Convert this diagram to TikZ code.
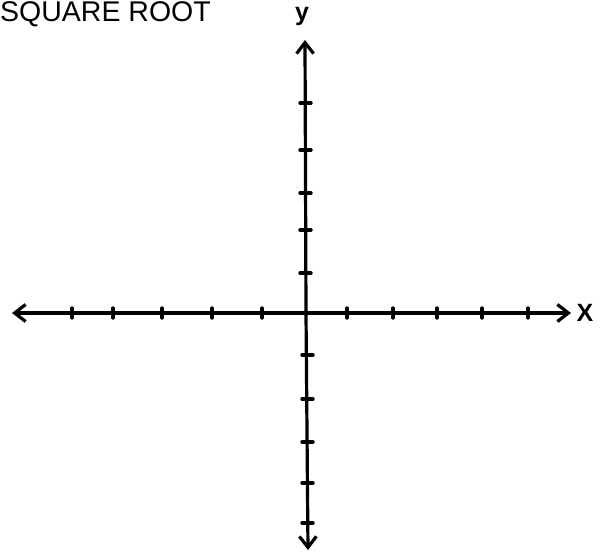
\documentclass[tikz,border=0pt]{standalone}
\usepackage{fontspec}
\setmainfont{Liberation Sans}
\usetikzlibrary{arrows.meta}
\begin{document}
\begin{tikzpicture}[x=1pt,y=-1pt,
  axis/.style={line width=3.2pt,line cap=round,-{Straight Barb[length=11pt,width=17pt,line width=3.2pt]}},
  tick/.style={line width=3.4pt,line cap=round},
  lbl/.style={inner sep=0pt,font=\fontsize{25}{25}\selectfont\bfseries}]
\useasboundingbox (0,0) rectangle (606,554);
\node[anchor=north west,inner sep=0pt,font=\fontsize{28.5}{28.5}\selectfont] (title) at (0,1) {SQUARE ROOT};
\coordinate (o) at (306,313);
\coordinate (xl) at (12,313);
\coordinate (xr) at (571,313);
\coordinate (yt) at (305,40);
\coordinate (yb) at (308,550);
\draw[axis] (o) -- (xl);
\draw[axis] (o) -- (xr);
\draw[axis] (o) -- (yt);
\draw[axis] (o) -- (yb);
\node[lbl] (ylab) at (302,16) {y};
\node[lbl] (xlab) at (585,313) {X};
\foreach \x in {72,113,162,212,262,347,393,437,482,528}
  \draw[tick] (\x,308) -- (\x,318);
\foreach \y in {103,150,193,230,273}
  \draw[tick] (300,\y) -- (311,\y);
\foreach \y in {355,399,442,483,523}
  \draw[tick] (302,\y) -- (313,\y);
\end{tikzpicture}
\end{document}
